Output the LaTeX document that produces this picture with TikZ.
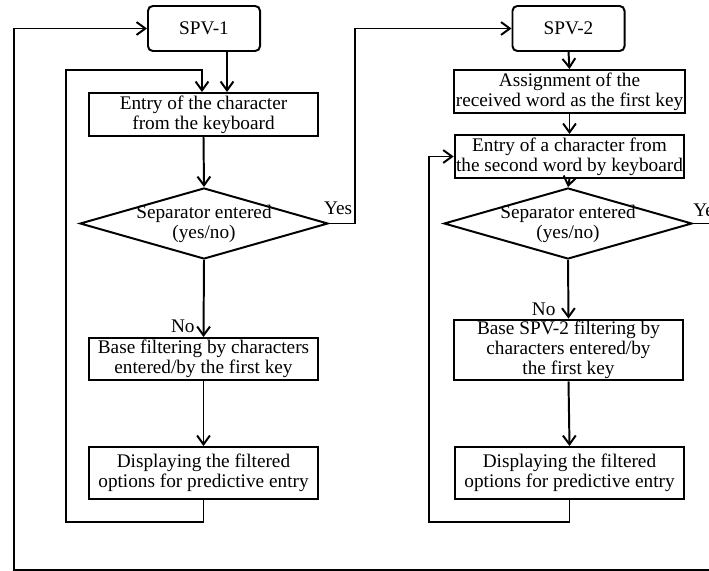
\documentclass[tikz,border=0pt]{standalone}
\usepackage{fontspec}
\setmainfont{Liberation Serif}
\usetikzlibrary{shapes.geometric,arrows.meta}

\begin{document}
\begin{tikzpicture}[x=0.025cm,y=-0.025cm,
        font=\fontsize{13.7}{14.3}\selectfont,
        start/.style={draw,line width=1.4pt,rounded corners=0.12cm,minimum width=2.8cm,minimum height=1.125cm},
        box/.style={draw,line width=1.4pt,inner sep=1pt,align=center,minimum width=5.725cm},
        decision/.style={draw,diamond,line width=1.4pt,aspect=3.5,inner sep=-6pt,align=center,minimum width=6.2cm,minimum height=1.775cm},
        arr/.style={line width=1.4pt,-{Straight Barb[length=0.22cm,width=0.32cm]}}]
        \useasboundingbox (0,0) rectangle (709,571);
        \clip (0,0) rectangle (709,571);
        \begin{scope}
            \node[start] (spv1) at (204,28.5) {SPV-1};
            \node[box,minimum height=1.075cm] (in1) at (203.5,114.5) {Entry of the character\\from the keyboard};
            \node[decision] (dec1) at (204,223.5) {Separator entered\\(yes/no)};
            \node[box,minimum height=1.05cm] (filt1) at (203.5,359) {Base filtering by characters\\entered/by the first key};
            \node[box,minimum height=1.3cm] (disp1) at (203.5,473) {Displaying the filtered\\options for predictive entry};
            \coordinate (yes1) at (355,223.5);
            \coordinate (l1a) at (66,522);
            \coordinate (l1b) at (202,70);
            \draw[arr] ([xshift=0.575cm]spv1.south) -- ([xshift=0.575cm]spv1.south |- in1.north);
            \draw[arr] (in1.south) -- (dec1.north);
            \draw[arr] (dec1.south) -- node[pos=0.86,left=0.2cm,inner sep=0pt] {No} (filt1.north);
            \draw[arr] (filt1.south) -- (disp1.north);
            \draw[arr] (disp1.south) |- (l1a) |- (l1b) -- (l1b |- in1.north);
        \end{scope}
        \begin{scope}
            \node[start] (spv2) at (568.5,28.5) {SPV-2};
            \node[box,minimum height=1.075cm] (asg2) at (569.5,91.5) {Assignment of the\\received word as the first key};
            \node[box,minimum height=1.075cm] (in2) at (569.5,156.5) {Entry of a character from\\the second word by keyboard};
            \node[decision] (dec2) at (568,223.5) {Separator entered\\(yes/no)};
            \node[box,minimum height=1.5cm] (filt2) at (568.5,350) {Base SPV-2 filtering by\\characters entered/by\\the first key};
            \node[box,minimum height=1.3cm] (disp2) at (569.5,473) {Displaying the filtered\\options for predictive entry};
            \coordinate (l2a) at (429,522);
            \coordinate (o1) at (730,223.5);
            \coordinate (o2) at (14,570);
            \draw[arr] (spv2.south) -- (asg2.north);
            \draw[arr] (asg2.south) -- (in2.north);
            \draw[arr] (in2.south) -- (dec2.north);
            \draw[arr] (dec2.south) -- node[pos=0.84,left=0.3cm,inner sep=0pt] {No} (filt2.north);
            \draw[arr] (filt2.south) -- (disp2.north);
            \draw[arr] (disp2.south) |- (l2a) |- (in2.west);
            \draw[arr] (dec2.east) node[anchor=south west,inner sep=1pt,xshift=-0.05cm,yshift=0.1cm] {Yes} -- (o1) |- (o2) |- (spv1.west);
        \end{scope}
        \draw[arr] (dec1.east) node[anchor=south west,inner sep=1pt,xshift=-0.18cm,yshift=0.15cm] {Yes} -- (yes1) |- (spv2.west);
    \end{tikzpicture}
\end{document}
